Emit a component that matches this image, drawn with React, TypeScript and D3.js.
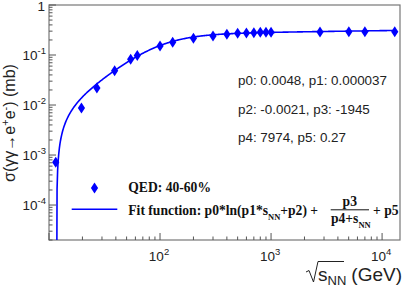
import React from 'react';
import * as d3 from 'd3';

const W = 409;
const H = 294;
const frame = { left: 49, right: 400, top: 5, bottom: 240 };

// sqrt(s_NN) in GeV
const energies = [11.5, 19.6, 27, 39, 54.4, 62.4, 100, 130, 200, 300, 400, 500, 600, 700, 800, 900, 1000, 2760, 5020, 7000, 13000];
// QED cross section, 40-60% (mb)
const sigmaQED = [7.2e-4, 0.0087, 0.022, 0.0485, 0.082, 0.098, 0.151, 0.18, 0.216, 0.24, 0.259, 0.271, 0.275, 0.279, 0.284, 0.284, 0.284, 0.288, 0.292, 0.292, 0.292];
// fit parameters p0..p5 (p5 shown rounded as 0.27 in the box)
const fitPars = [0.0048, 0.000037, -0.0021, -1945, 7974, 0.2677];
const fitRange = [10, 13000];
const xLabelExp = [2, 3, 4];
const yLabelExp = [0, -1, -2, -3, -4];
const parLines = ['p0: 0.0048, p1: 0.000037', 'p2: -0.0021, p3: -1945', 'p4: 7974, p5: 0.27'];

const fitFn = (x: number) => {
  const [p0, p1, p2, p3, p4, p5] = fitPars;
  const s = x * x;
  const arg = p1 * s + p2;
  if (arg <= 0) return NaN;
  return p0 * Math.log(arg) + p3 / (p4 + s) + p5;
};

const sans = 'Liberation Sans, Arial, Helvetica, sans-serif';
const serif = 'Liberation Serif, Times New Roman, serif';

export default function App() {
  const x = d3.scaleLog().domain([10, 14500]).range([frame.left, frame.right]);
  const y = d3.scaleLog().domain([2e-5, 1]).range([frame.bottom, frame.top]);

  // sample fit curve over its range
  const lx = d3.scaleLog().domain(fitRange).range([0, 1]);
  const curvePts = d3.range(0, 601).map((i) => {
    const xv = lx.invert(i / 600);
    const v = fitFn(xv);
    return [xv, !(v > 0) ? 1e-7 : v] as [number, number];
  });
  const line = d3.line<[number, number]>()
    .x((d) => x(d[0]))
    .y((d) => y(Math.max(d[1], 1e-7)));

  const xTicks = x.ticks();
  const yTicks = y.ticks();
  const isMajor = (v: number) => Math.abs(Math.log10(v) - Math.round(Math.log10(v))) < 1e-9;

  const diamond = (cx: number, cy: number) =>
    `M${cx},${cy - 5.5}L${cx + 3.6},${cy}L${cx},${cy + 5.5}L${cx - 3.6},${cy}Z`;

  const axisCol = '#555';

  return (
    <svg width={W} height={H} style={{ position: 'absolute', left: 0, top: 0, background: '#fff' }}>
      <defs>
        <clipPath id="plotclip">
          <rect x={frame.left} y={frame.top} width={frame.right - frame.left} height={frame.bottom - frame.top} />
        </clipPath>
      </defs>
      <rect x={0} y={0} width={W} height={H} fill="#fff" />

      {/* frame */}
      <rect x={frame.left} y={frame.top} width={frame.right - frame.left} height={frame.bottom - frame.top}
        fill="none" stroke="#777" strokeWidth={1.2} />

      {/* y ticks */}
      {yTicks.map((t, i) => (
        <line key={'yt' + i} x1={frame.left} x2={frame.left + (isMajor(t) ? 7 : 3.5)} y1={y(t)} y2={y(t)}
          stroke={axisCol} strokeWidth={1} />
      ))}
      {/* x ticks */}
      {xTicks.map((t, i) => (
        <line key={'xt' + i} x1={x(t)} x2={x(t)} y1={frame.bottom} y2={frame.bottom - (isMajor(t) ? 7 : 3.5)}
          stroke={axisCol} strokeWidth={1} />
      ))}

      {/* y labels */}
      {yLabelExp.map((e) => (
        e === 0 ? (
          <text key={'yl' + e} x={45} y={y(1) + 5.5} textAnchor="end" fontFamily={sans} fontSize={13.5} fill="#222">1</text>
        ) : (
          <text key={'yl' + e} x={46} y={y(Math.pow(10, e)) + 5} textAnchor="end" fontFamily={sans} fontSize={13.5} fill="#222">
            10<tspan dy={-6} fontSize={9.5}>{'-' + Math.abs(e)}</tspan>
          </text>
        )
      ))}
      {/* x labels */}
      {xLabelExp.map((e) => (
        <text key={'xl' + e} x={x(Math.pow(10, e)) - 1} y={260.5} textAnchor="middle" fontFamily={sans} fontSize={13.5} fill="#222">
          10<tspan dy={-6} fontSize={9.5}>{e}</tspan>
        </text>
      ))}

      {/* axis titles */}
      <text transform="translate(15,123) rotate(-90)" textAnchor="middle" fontFamily={sans} fontSize={16} fill="#222">
        σ(γγ→e<tspan dy={-6} fontSize={11}>+</tspan><tspan dy={6}>e</tspan><tspan dy={-6} fontSize={11}>-</tspan><tspan dy={6}>) (mb)</tspan>
      </text>
      <path d="M306,272 L309,270.5 L313.5,282 L318,261.5 L344,261.5" fill="none" stroke="#222" strokeWidth={1} />
      <text x={318} y={281} fontFamily={sans} fontSize={19} fill="#222">s</text>
      <text x={327.5} y={285} fontFamily={sans} fontSize={13} fill="#222">NN</text>
      <text x={402} y={281} textAnchor="end" fontFamily={sans} fontSize={19} fill="#222">(GeV)</text>

      {/* fit curve and data */}
      <g clipPath="url(#plotclip)">
        <path d={line(curvePts) || ''} fill="none" stroke="#0000ff" strokeWidth={1.6} />
        {energies.map((e, i) => (
          <path key={'pt' + i} d={diamond(x(e), y(sigmaQED[i]))} fill="#0000ff" />
        ))}
      </g>

      {/* fit parameters */}
      {parLines.map((s, i) => (
        <text key={'par' + i} x={238} y={85 + i * 28.5} fontFamily={sans} fontSize={13.4} fill="#222">{s}</text>
      ))}

      {/* legend */}
      <path d={diamond(94.5, 188)} fill="#0000ff" />
      <text x={128.3} y={192.3} fontFamily={serif} fontWeight="bold" fontSize={13.6} fill="#111">QED: 40-60%</text>
      <line x1={71.7} x2={117.3} y1={209.3} y2={209.3} stroke="#0000ff" strokeWidth={1.6} />
      <text x={128.3} y={215} fontFamily={serif} fontWeight="bold" fontSize={13.6} fill="#111">
        Fit function: p0*ln(p1*s<tspan dy={4.5} fontSize={8.5}>NN</tspan><tspan dy={-4.5}>+p2) + </tspan>
      </text>
      <text x={349.8} y={206} textAnchor="middle" fontFamily={serif} fontWeight="bold" fontSize={13.6} fill="#111">p3</text>
      <line x1={330.7} x2={369} y1={209.8} y2={209.8} stroke="#111" strokeWidth={1} />
      <text x={331} y={223} fontFamily={serif} fontWeight="bold" fontSize={13.6} fill="#111">
        p4+s<tspan dy={5} fontSize={8.5}>NN</tspan>
      </text>
      <text x={373} y={215} fontFamily={serif} fontWeight="bold" fontSize={13.6} fill="#111">+ p5</text>
    </svg>
  );
}
